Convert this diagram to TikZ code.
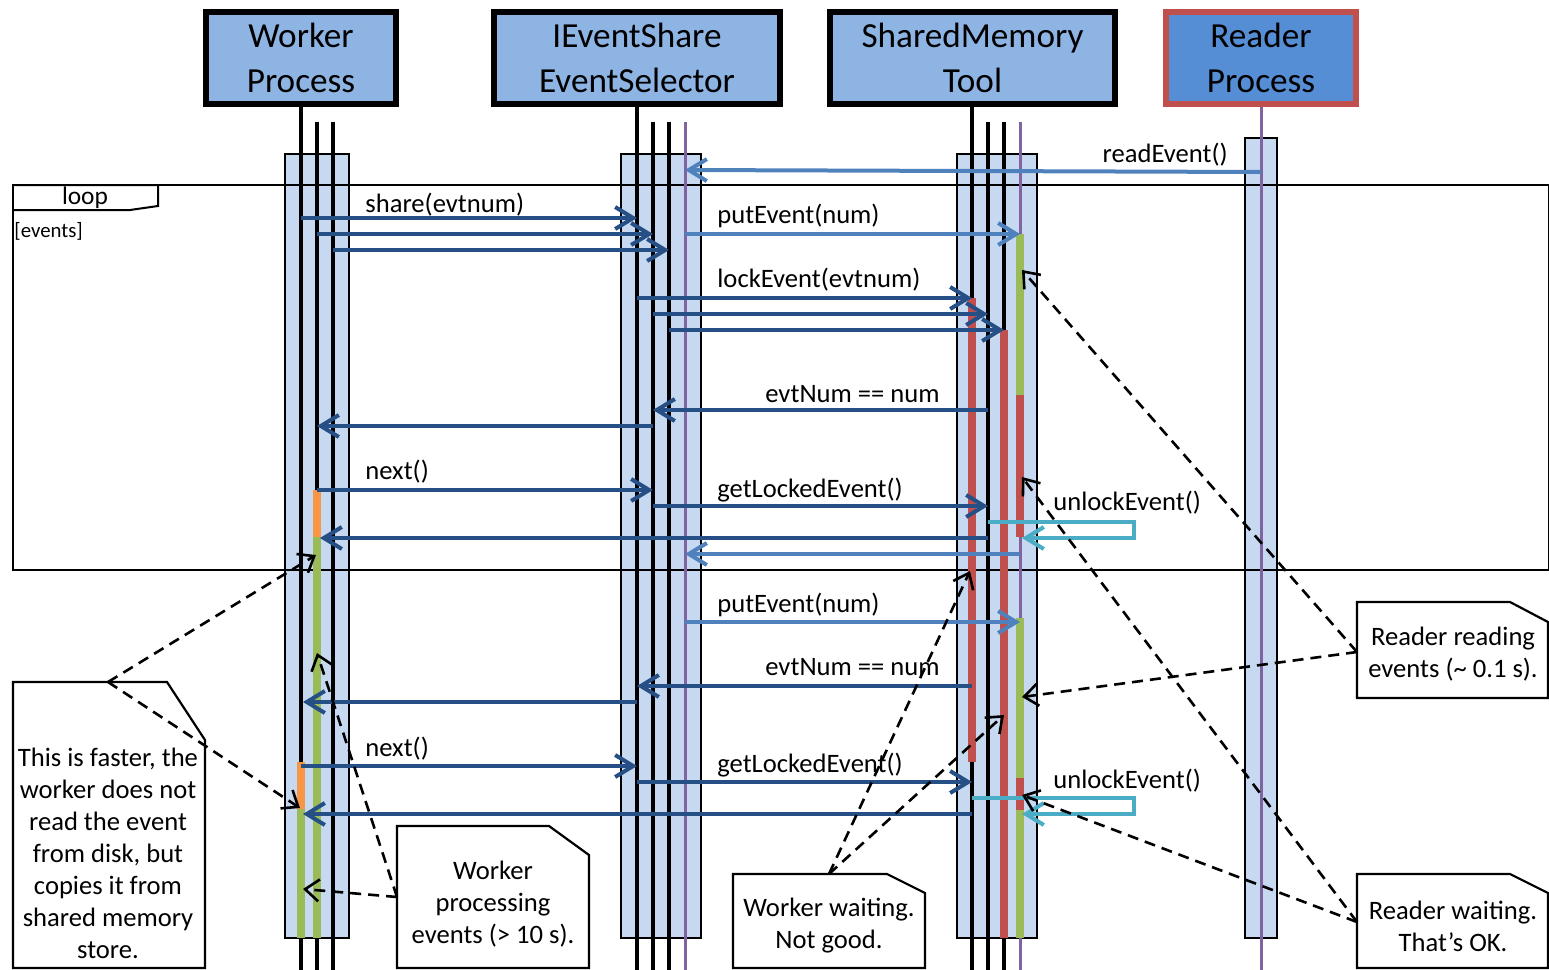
\documentclass[tikz,border=0pt]{standalone}
\usepackage{fontspec}
\setmainfont{Carlito}
\usetikzlibrary{arrows.meta}
\definecolor{hdrblue}{HTML}{8EB4E3}
\definecolor{rdrblue}{HTML}{558ED5}
\definecolor{rdrred}{HTML}{C0504D}
\definecolor{lifeblue}{HTML}{C6D9F1}
\definecolor{dkblue}{HTML}{254F85}
\definecolor{mdblue}{HTML}{4F81BD}
\definecolor{cyanc}{HTML}{4BACC6}
\definecolor{purp}{HTML}{8064A2}
\definecolor{redbar}{HTML}{C0504D}
\definecolor{greenbar}{HTML}{9BBB59}
\definecolor{orangebar}{HTML}{F79646}
\tikzset{
  hdr/.style={draw=black, line width=2.8pt, fill=hdrblue, align=center, font=\fontsize{17.6}{22.5}\selectfont, inner sep=0pt, minimum height=46pt},
  lifebox/.style={draw=black, line width=1pt, fill=lifeblue},
  lline/.style={draw=black, line width=2pt},
  pline/.style={draw=purp, line width=1.5pt},
  actbar/.style={line width=3.6pt},
  msgtip/.style={-{Straight Barb[length=9pt,width=11pt]}},
  dmsg/.style={draw=dkblue, line width=2pt, msgtip},
  mmsg/.style={draw=mdblue, line width=2pt, msgtip},
  cmsg/.style={draw=cyanc, line width=2pt, msgtip},
  lbl/.style={inner sep=0pt, font=\fontsize{13.3}{16}\selectfont},
  notebox/.style={draw=black, line width=1.1pt, fill=white},
  notetext/.style={inner sep=0pt, align=center, font=\fontsize{13.3}{16}\selectfont},
  dashnote/.style={draw=black, line width=1.3pt, dash pattern=on 5.5pt off 3.5pt, -{Straight Barb[length=7pt,width=11pt]}},
}
\begin{document}
\begin{tikzpicture}[x=0.5pt,y=-0.5pt]
\useasboundingbox (0,0) rectangle (1549,970);

% ---------- headers ----------
\node[hdr, minimum width=95pt] (worker) at (301,58) {Worker\\Process};
\node[hdr, minimum width=143pt] (share) at (637,58) {IEventShare\\EventSelector};
\node[hdr, minimum width=142.5pt] (shm) at (972.5,58) {SharedMemory\\Tool};
\node[hdr, minimum width=95pt, draw=rdrred, fill=rdrblue] (reader) at (1261,58) {Reader\\Process};

% ---------- lifeline boxes ----------
\draw[lifebox] (285,154) rectangle (349,938);
\draw[lifebox] (621,154) rectangle (701,938);
\draw[lifebox] (957,154) rectangle (1037,938);
\draw[lifebox] (1245,138) rectangle (1277,938);

% ---------- loop frame ----------
\draw[line width=1pt] (13,185) rectangle (1549,570);
\draw[line width=1pt] (13,185) -- (158,185) -- (158,206) -- (130,210) -- (13,210);
\node[inner sep=0pt, anchor=base, font=\fontsize{12.7}{15}\selectfont] (looplbl) at (85,204) {loop};
\node[inner sep=0pt, anchor=base west, font=\fontsize{10.4}{13}\selectfont] (guard) at (14,237) {[events]};

% ---------- lifelines ----------
\draw[lline] (worker.south) -- (301,970);
\draw[lline] (317,122) -- (317,970);
\draw[lline] (333,122) -- (333,970);
\draw[lline] (share.south) -- (637,970);
\draw[lline] (653,122) -- (653,970);
\draw[lline] (669,122) -- (669,970);
\draw[pline] (685,122) -- (685,970);
\draw[lline] (shm.south -| 972,0) -- (972,970);
\draw[lline] (988,122) -- (988,970);
\draw[lline] (1004,122) -- (1004,970);
\draw[pline] (1020,122) -- (1020,970);
\draw[pline] (reader.south) -- (1261,970);

% ---------- activation bars ----------
\draw[actbar, orangebar] (317,490) -- (317,537);
\draw[actbar, greenbar] (317,537) -- (317,938);
\draw[actbar, orangebar] (301,762) -- (301,809);
\draw[actbar, greenbar] (301,809) -- (301,938);
\draw[actbar, redbar] (972,298) -- (972,762);
\draw[actbar, redbar] (1004,330) -- (1004,938);
\draw[actbar, greenbar] (1020,234) -- (1020,395);
\draw[actbar, redbar] (1020,395) -- (1020,537);
\draw[actbar, greenbar] (1020,618) -- (1020,778);
\draw[actbar, redbar] (1020,778) -- (1020,810);
\draw[actbar, greenbar] (1020,810) -- (1020,938);

% ---------- message end points ----------
\coordinate (rdS) at (1261,172); \coordinate (rdE) at (685,170);
\coordinate (sh1S) at (301,218); \coordinate (sh1E) at (637,218);
\coordinate (sh2S) at (317,234); \coordinate (sh2E) at (653,234);
\coordinate (sh3S) at (333,250); \coordinate (sh3E) at (669,250);
\coordinate (pu1S) at (685,234); \coordinate (pu1E) at (1020,234);
\coordinate (lk1S) at (637,298); \coordinate (lk1E) at (972,298);
\coordinate (lk2S) at (653,314); \coordinate (lk2E) at (988,314);
\coordinate (lk3S) at (669,330); \coordinate (lk3E) at (1004,330);
\coordinate (ev1S) at (988,410); \coordinate (ev1E) at (653,410);
\coordinate (rt1S) at (653,426); \coordinate (rt1E) at (317,426);
\coordinate (nx1S) at (317,490); \coordinate (nx1E) at (653,490);
\coordinate (gl1S) at (653,506); \coordinate (gl1E) at (988,506);
\coordinate (ul1S) at (988,522); \coordinate (ul1A) at (1134,522); \coordinate (ul1B) at (1134,538); \coordinate (ul1E) at (1022,538);
\coordinate (rt2S) at (988,538); \coordinate (rt2E) at (320,538);
\coordinate (mrS) at (1020,554); \coordinate (mrE) at (685,554);
\coordinate (pu2S) at (685,622); \coordinate (pu2E) at (1020,622);
\coordinate (ev2S) at (972,686); \coordinate (ev2E) at (637,686);
\coordinate (rt3S) at (637,702); \coordinate (rt3E) at (303,702);
\coordinate (nx2S) at (301,766); \coordinate (nx2E) at (637,766);
\coordinate (gl2S) at (637,782); \coordinate (gl2E) at (972,782);
\coordinate (ul2S) at (972,798); \coordinate (ul2A) at (1134,798); \coordinate (ul2B) at (1134,814); \coordinate (ul2E) at (1022,814);
\coordinate (rt4S) at (972,814); \coordinate (rt4E) at (303,814);

% ---------- messages ----------
\draw[mmsg] (rdS) -- (rdE);
\draw[dmsg] (sh1S) -- (sh1E);
\draw[dmsg] (sh2S) -- (sh2E);
\draw[dmsg] (sh3S) -- (sh3E);
\draw[mmsg] (pu1S) -- (pu1E);
\draw[dmsg] (lk1S) -- (lk1E);
\draw[dmsg] (lk2S) -- (lk2E);
\draw[dmsg] (lk3S) -- (lk3E);
\draw[dmsg] (ev1S) -- (ev1E);
\draw[dmsg] (rt1S) -- (rt1E);
\draw[dmsg] (nx1S) -- (nx1E);
\draw[dmsg] (gl1S) -- (gl1E);
\draw[cmsg] (ul1S) -- (ul1A) -- (ul1B) -- (ul1E);
\draw[dmsg] (rt2S) -- (rt2E);
\draw[mmsg] (mrS) -- (mrE);
\draw[mmsg] (pu2S) -- (pu2E);
\draw[dmsg] (ev2S) -- (ev2E);
\draw[dmsg] (rt3S) -- (rt3E);
\draw[dmsg] (nx2S) -- (nx2E);
\draw[dmsg] (gl2S) -- (gl2E);
\draw[cmsg] (ul2S) -- (ul2A) -- (ul2B) -- (ul2E);
\draw[dmsg] (rt4S) -- (rt4E);

% ---------- labels ----------
\node[lbl, anchor=base east] (lrd) at (1228,162) {readEvent()};
\node[lbl, anchor=base west] (lsh) at (365,212) {share(evtnum)};
\node[lbl, anchor=base west] (lpu1) at (717,223) {putEvent(num)};
\node[lbl, anchor=base west] (llk) at (717,287) {lockEvent(evtnum)};
\node[lbl, anchor=base east] (lev1) at (940,402) {evtNum == num};
\node[lbl, anchor=base west] (lnx1) at (365,479) {next()};
\node[lbl, anchor=base west] (lgl1) at (717,497) {getLockedEvent()};
\node[lbl, anchor=base west] (lul1) at (1053,510) {unlockEvent()};
\node[lbl, anchor=base west] (lpu2) at (717,612) {putEvent(num)};
\node[lbl, anchor=base east] (lev2) at (940,675) {evtNum == num};
\node[lbl, anchor=base west] (lnx2) at (365,756) {next()};
\node[lbl, anchor=base west] (lgl2) at (717,772) {getLockedEvent()};
\node[lbl, anchor=base west] (lul2) at (1053,788) {unlockEvent()};

% ---------- notes ----------
\draw[notebox] (13,968) -- (13,682) -- (167,682) -- (205,740) -- (205,968) -- cycle;
\node[notetext] (noteA) at (108,853) {This is faster, the\\worker does not\\read the event\\from disk, but\\copies it from\\shared memory\\store.};
\draw[notebox] (397,968) -- (397,826) -- (549,826) -- (589,855) -- (589,968) -- cycle;
\node[notetext] (noteB) at (493,904) {Worker\\processing\\events (> 10 s).};
\draw[notebox] (733,968) -- (733,874) -- (887,874) -- (925,893) -- (925,968) -- cycle;
\node[notetext] (noteC) at (829,926) {Worker waiting.\\Not good.};
\draw[notebox] (1357,698) -- (1357,602) -- (1510,602) -- (1548,622) -- (1548,698) -- cycle;
\node[notetext] (noteD) at (1453,654) {Reader reading\\events (\textasciitilde{} 0.1 s).};
\draw[notebox] (1357,968) -- (1357,874) -- (1510,874) -- (1548,893) -- (1548,968) -- cycle;
\node[notetext] (noteE) at (1453,926) {Reader waiting.\\That’s OK.};

% ---------- note anchors and targets ----------
\coordinate (nA) at (108,682);
\coordinate (nB) at (397,897);
\coordinate (nC) at (829,874);
\coordinate (nD) at (1357,652);
\coordinate (nE) at (1357,922);
\coordinate (tA1) at (316,555); \coordinate (tA2) at (300,808);
\coordinate (tB1) at (303,889); \coordinate (tB2) at (317,653);
\coordinate (tC1) at (970,571); \coordinate (tC2) at (1004,715);
\coordinate (tD1) at (1022,270); \coordinate (tD2) at (1022,697);
\coordinate (tE1) at (1022,477); \coordinate (tE2) at (1022,795);

\draw[dashnote] (nA) -- (tA1);
\draw[dashnote] (nA) -- (tA2);
\draw[dashnote] (nB) -- (tB1);
\draw[dashnote] (nB) -- (tB2);
\draw[dashnote] (nC) -- (tC1);
\draw[dashnote] (nC) -- (tC2);
\draw[dashnote] (nD) -- (tD1);
\draw[dashnote] (nD) -- (tD2);
\draw[dashnote] (nE) -- (tE1);
\draw[dashnote] (nE) -- (tE2);
\end{tikzpicture}
\end{document}
